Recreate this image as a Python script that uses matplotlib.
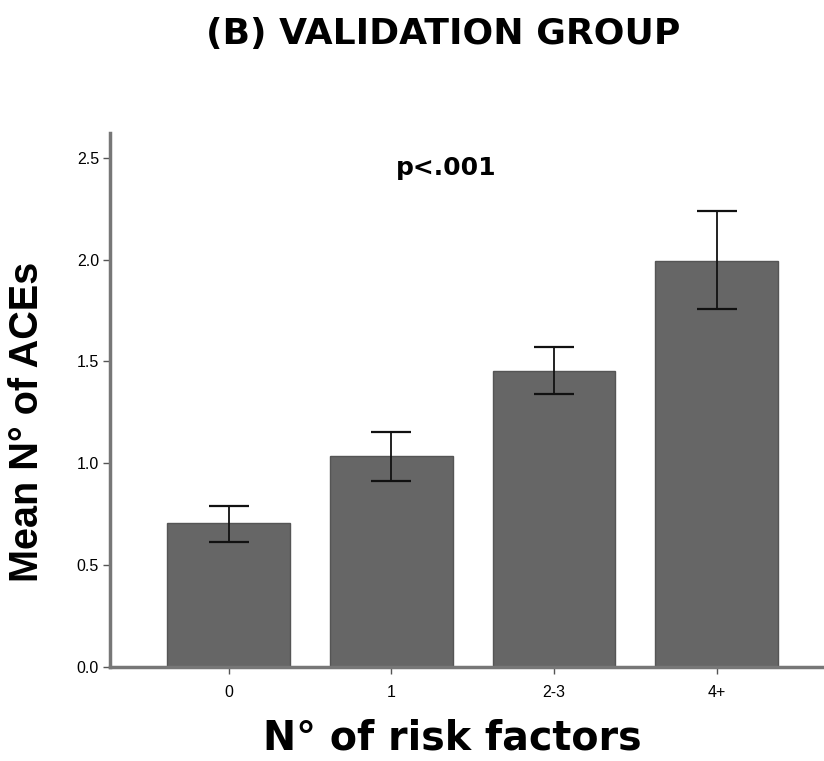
import numpy as np
import matplotlib.pyplot as plt

categories = ["0", "1", "2-3", "4+"]
means = [0.705, 1.035, 1.455, 1.995]
err_low = [0.615, 0.915, 1.340, 1.755]
err_high = [0.790, 1.155, 1.570, 2.240]

fig = plt.figure(figsize=(8.24, 7.61), dpi=100)
ax = fig.add_axes([0.1335, 0.1235, 0.8665, 0.7015])

x = np.arange(len(categories))
means = np.array(means)
yerr = [means - np.array(err_low), np.array(err_high) - means]

ax.bar(x, means, width=0.755, color="#666666", edgecolor="#555555", linewidth=1.0, zorder=2)
ax.errorbar(x, means, yerr=yerr, fmt="none", ecolor="#111111", elinewidth=1.3,
            capsize=14.5, capthick=1.6, zorder=3)

ax.set_xlim(-0.73, 3.66)
ax.set_ylim(0, 2.62)
ax.set_yticks([0.0, 0.5, 1.0, 1.5, 2.0, 2.5])
ax.set_yticklabels(["0.0", "0.5", "1.0", "1.5", "2.0", "2.5"])
ax.set_xticks(x)
ax.set_xticklabels(categories)

for s in ["top", "right"]:
    ax.spines[s].set_visible(False)
for s in ["left", "bottom"]:
    ax.spines[s].set_color("#777777")
    ax.spines[s].set_linewidth(2.5)

ax.tick_params(axis="both", direction="out", length=5, width=1, color="#555555",
               labelsize=11.5, pad=3)
for lbl in ax.get_xticklabels() + ax.get_yticklabels():
    lbl.set_fontfamily("Liberation Sans")
ax.tick_params(axis="x", pad=8)

ax.set_ylabel("Mean N° of ACEs", fontsize=28.5, fontweight="bold",
              family="Liberation Sans")
ax.yaxis.set_label_coords(-0.0896, 0.46)
ax.set_xlabel("N° of risk factors", fontsize=28.5, fontweight="bold",
              family="DejaVu Sans", va="center")
ax.xaxis.set_label_coords((452 - 110) / 714, -(739 - 667) / 534)

ax.text(1.34, 2.45, "p<.001", fontsize=18, fontweight="bold", family="DejaVu Sans",
        ha="center", va="center")

fig.text(443 / 824, 0.955, "(B) VALIDATION GROUP", fontsize=26, fontweight="bold",
         family="DejaVu Sans", ha="center", va="center")

fig.savefig("out.png", dpi=100)
